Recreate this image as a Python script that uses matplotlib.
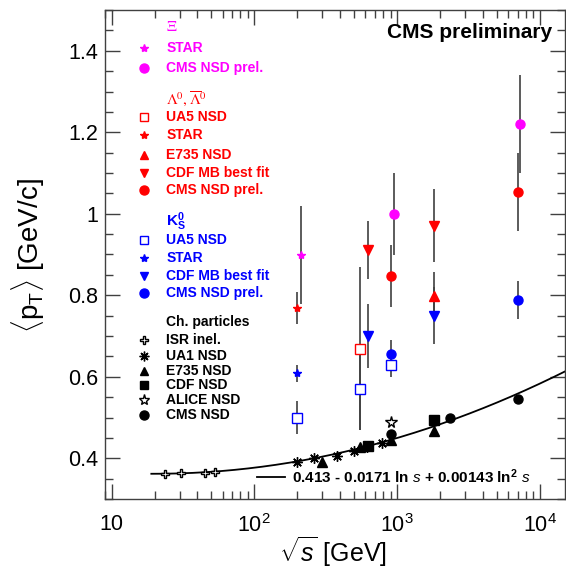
import numpy as np
import matplotlib.pyplot as plt
from matplotlib.ticker import FixedLocator, LogLocator, FuncFormatter, MultipleLocator

plt.rcParams['font.family'] = ['Liberation Sans', 'DejaVu Sans']
plt.rcParams['mathtext.fontset'] = 'custom'
plt.rcParams['mathtext.rm'] = 'Liberation Sans'
plt.rcParams['mathtext.it'] = 'Liberation Sans:italic'
plt.rcParams['mathtext.bf'] = 'Liberation Sans:bold'

# charged particles
isr_e = [23.6, 30.8, 45, 53]
isr_pt = [0.361, 0.363, 0.365, 0.367]
ua1_e = [200, 260, 380, 500, 620, 790]
ua1_pt = [0.390, 0.401, 0.406, 0.418, 0.428, 0.437]
e735_e = [300, 546, 900, 1800]
e735_pt = [0.392, 0.428, 0.446, 0.468]
cdf_e = [630, 1800]
cdf_pt = [0.431, 0.494]
alice_e = [900]
alice_pt = [0.489]
cms_e = [900, 2360, 7000]
cms_pt = [0.460, 0.500, 0.545]

# Lambda
lam_ua5_e, lam_ua5_pt, lam_ua5_err = [546], [0.669], [0.20]
lam_star_e, lam_star_pt, lam_star_err = [200], [0.769], [0.04]
lam_e735_e, lam_e735_pt, lam_e735_err = [1800], [0.798], [0.06]
lam_cdf_e, lam_cdf_pt, lam_cdf_err = [630, 1800], [0.911, 0.971], [0.07, 0.09]
lam_cms_e, lam_cms_pt, lam_cms_err = [900, 7000], [0.847, 1.053], [0.077, 0.095]

# K0s
k0_ua5_e, k0_ua5_pt, k0_ua5_err = [200, 546, 900], [0.500, 0.569, 0.629], [0.04, 0.10, 0.03]
k0_star_e, k0_star_pt, k0_star_err = [200], [0.608], [0.02]
k0_cdf_e, k0_cdf_pt, k0_cdf_err = [630, 1800], [0.700, 0.750], [0.079, 0.07]
k0_cms_e, k0_cms_pt, k0_cms_err = [900, 7000], [0.656, 0.788], [0.035, 0.046]

# Xi (shifted slightly in energy for visibility)
xi_star_e, xi_star_pt, xi_star_err = [211], [0.899], [0.12]
xi_cms_e, xi_cms_pt, xi_cms_err = [950, 7250], [1.000, 1.220], [0.10, 0.12]

fit_p = [0.413, -0.0171, 0.00143]

RED, BLUE, MAG, BLK = '#ff0000', '#0000ff', '#ff00ff', 'black'
asterisk = (8, 2, 0)

fig = plt.figure(figsize=(5.66, 5.70), dpi=100)
ax = fig.add_axes([105 / 566, 71 / 570, 460 / 566, 489 / 570])
ax.set_xscale('log')
ax.set_xlim(9, 15000)
ax.set_ylim(0.3, 1.5)

# fit curve
rs = np.logspace(np.log10(19), np.log10(15000), 300)
ls = np.log(rs ** 2)
ax.plot(rs, fit_p[0] + fit_p[1] * ls + fit_p[2] * ls ** 2, color='black', lw=1.3, zorder=2)


def series(e, pt, err, color, marker, ms, filled=True):
    if err is not None:
        ax.errorbar(e, pt, yerr=err, fmt='none', ecolor='0.25', elinewidth=1.2, capsize=0, zorder=3)
    ax.plot(e, pt, ls='none', marker=marker, ms=ms, mec=color,
            mfc=color if filled else 'white', mew=1.0, zorder=4)


series(lam_ua5_e, lam_ua5_pt, lam_ua5_err, RED, 's', 6.5, filled=False)
series(k0_ua5_e, k0_ua5_pt, k0_ua5_err, BLUE, 's', 6.5, filled=False)
series(lam_star_e, lam_star_pt, lam_star_err, RED, '*', 6)
series(k0_star_e, k0_star_pt, k0_star_err, BLUE, '*', 6)
series(xi_star_e, xi_star_pt, xi_star_err, MAG, '*', 6)
series(lam_e735_e, lam_e735_pt, lam_e735_err, RED, '^', 6.5)
series(lam_cdf_e, lam_cdf_pt, lam_cdf_err, RED, 'v', 6.5)
series(k0_cdf_e, k0_cdf_pt, k0_cdf_err, BLUE, 'v', 6.5)
series(lam_cms_e, lam_cms_pt, lam_cms_err, RED, 'o', 6.5)
series(k0_cms_e, k0_cms_pt, k0_cms_err, BLUE, 'o', 6.5)
series(xi_cms_e, xi_cms_pt, xi_cms_err, MAG, 'o', 6.5)

series(isr_e, isr_pt, None, BLK, 'P', 6, filled=False)
series(ua1_e, ua1_pt, None, BLK, asterisk, 7.5)
series(e735_e, e735_pt, None, BLK, '^', 6.5)
series(cdf_e, cdf_pt, None, BLK, 's', 6.5)
series(alice_e, alice_pt, None, BLK, '*', 8.5, filled=False)
series(cms_e, cms_pt, None, BLK, 'o', 6.5)

# legend column
mx, tx = 0.085, 0.133
legend_rows = [
    (0.922, MAG, '*', 6, True, 'STAR'),
    (0.881, MAG, 'o', 6.5, True, 'CMS NSD prel.'),
    (0.781, RED, 's', 6, False, 'UA5 NSD'),
    (0.744, RED, '*', 6, True, 'STAR'),
    (0.703, RED, '^', 6, True, 'E735 NSD'),
    (0.667, RED, 'v', 6, True, 'CDF MB best fit'),
    (0.632, RED, 'o', 6.5, True, 'CMS NSD prel.'),
    (0.530, BLUE, 's', 6, False, 'UA5 NSD'),
    (0.493, BLUE, '*', 6, True, 'STAR'),
    (0.456, BLUE, 'v', 6, True, 'CDF MB best fit'),
    (0.421, BLUE, 'o', 6.5, True, 'CMS NSD prel.'),
    (0.325, BLK, 'P', 6, False, 'ISR inel.'),
    (0.292, BLK, asterisk, 7, True, 'UA1 NSD'),
    (0.262, BLK, '^', 6, True, 'E735 NSD'),
    (0.233, BLK, 's', 6, True, 'CDF NSD'),
    (0.202, BLK, '*', 8, False, 'ALICE NSD'),
    (0.172, BLK, 'o', 6.5, True, 'CMS NSD'),
]
for y, c, m, ms, filled, label in legend_rows:
    ax.plot([mx], [y], transform=ax.transAxes, marker=m, ms=ms, mec=c,
            mfc=c if filled else 'white', mew=1.0, ls='none', clip_on=False)
    ax.text(tx, y, label, transform=ax.transAxes, color=c, fontsize=10,
            fontweight='bold', va='center', ha='left')

ax.text(tx, 0.965, r'$\Xi$', transform=ax.transAxes, color=MAG, fontsize=11,
        va='center', math_fontfamily='stix')
ax.text(tx, 0.818, r'$\Lambda^0,\overline{\Lambda}^0$', transform=ax.transAxes, color=RED,
        fontsize=11, va='center', math_fontfamily='stix')
ax.text(tx, 0.568, r'$\mathbf{K^0_S}$', transform=ax.transAxes, color=BLUE,
        fontsize=11, va='center')
ax.text(tx, 0.362, 'Ch. particles', transform=ax.transAxes, color=BLK,
        fontsize=10, fontweight='bold', va='center')

ax.text(0.972, 0.955, 'CMS preliminary', transform=ax.transAxes, fontsize=15,
        fontweight='bold', ha='right', va='center')

# fit label
ax.plot([0.330, 0.391], [0.045, 0.045], transform=ax.transAxes, color='black', lw=1.3)
ax.text(0.4065, 0.045,
        r'0.413 - 0.0171 ln $\mathit{s}$ + 0.00143 ln$^{\mathbf{2}}$ $\mathit{s}$',
        transform=ax.transAxes, fontsize=11, fontweight='bold', va='center', ha='left')

# axes styling
ax.xaxis.set_major_locator(FixedLocator([10, 100, 1000, 10000]))
ax.xaxis.set_minor_locator(LogLocator(base=10, subs=np.arange(2, 10), numticks=20))
ax.xaxis.set_major_formatter(FuncFormatter(
    lambda v, p: '10' if v == 10 else r'$10^{%d}$' % round(np.log10(v))))
ax.xaxis.set_minor_formatter(FuncFormatter(lambda v, p: ''))
ax.yaxis.set_major_locator(MultipleLocator(0.2))
ax.yaxis.set_minor_locator(MultipleLocator(0.05))
ax.yaxis.set_major_formatter(FuncFormatter(lambda v, p: '%g' % round(v, 2)))

ax.tick_params(which='both', direction='in', top=True, right=True, width=1.0, color='0.25')
ax.tick_params(which='major', length=11, labelsize=15.5)
ax.tick_params(which='minor', length=5.5)
ax.tick_params(axis='x', which='major', pad=11)
ax.tick_params(axis='y', which='major', pad=5)
for sp in ax.spines.values():
    sp.set_linewidth(1.0)
    sp.set_color('0.25')

fig.text(333 / 566, 1 - 552 / 570, r'$\sqrt{\mathit{s}}$ [GeV]', fontsize=18,
         ha='center', va='center')
fig.text(28 / 566, 1 - 256 / 570, r'$\langle$p$_{\rm T}\rangle$ [GeV/c]', fontsize=20,
         ha='center', va='center', rotation=90)

fig.savefig('out.png', dpi=100)
